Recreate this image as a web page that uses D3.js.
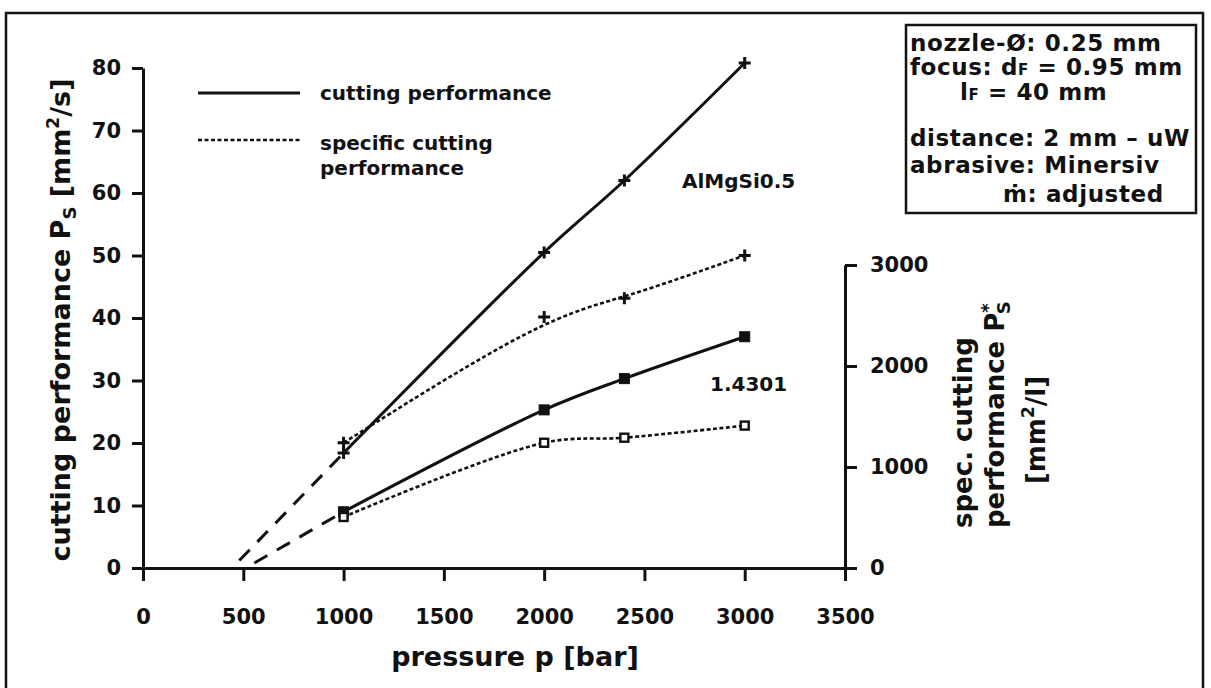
<!DOCTYPE html>
<html>
<head>
<meta charset="utf-8">
<script src="https://cdn.jsdelivr.net/npm/d3@7/dist/d3.min.js"></script>
<style>
  body { margin: 0; background: #fff; }
  svg text { font-family: "DejaVu Sans", sans-serif; font-weight: bold; fill: #111; }
</style>
</head>
<body>
<svg id="chart" width="1211" height="688"></svg>
<script>
// Measured points (pressure in bar)
const pressure = [1000, 2000, 2400, 3000];
// cutting performance P_S [mm²/s], left axis
const perfAlMgSi = [18.4, 50.5, 62.0, 80.8];
const perf14301 = [9.0, 25.3, 30.3, 37.0];
// specific cutting performance P_S* [mm²/l], right axis
const specAlMgSi = [1240, 2485, 2670, 3095];
const spec14301 = [505, 1240, 1290, 1410];
// dashed extrapolation towards the threshold pressure (bar, mm²/s)
const extrapAlMgSiP = [480, 1000];
const extrapAlMgSiV = [1.2, 18.4];
const extrap14301P = [555, 1000];
const extrap14301V = [0.8, 9.0];

const xTicks = [0, 500, 1000, 1500, 2000, 2500, 3000, 3500];
const leftTicks = [0, 10, 20, 30, 40, 50, 60, 70, 80];
const rightTicks = [0, 1000, 2000, 3000];

const infoLines = [
  "nozzle-\u00D8: 0.25 mm",
  "focus: d",
  "l",
  "distance: 2 mm \u2013 uW",
  "abrasive: Minersiv",
  "m\u0307: adjusted"
];

const svg = d3.select("#chart");
const ink = "#111";

// outer frame
svg.append("rect").attr("x", 6).attr("y", 13).attr("width", 1197).attr("height", 690)
  .attr("fill", "none").attr("stroke", ink).attr("stroke-width", 2.5);

const x = d3.scaleLinear().domain([0, 3500]).range([143, 845]);
const yL = d3.scaleLinear().domain([0, 80]).range([568, 68]);
const yR = d3.scaleLinear().domain([0, 3000]).range([568, 265]);
const fmt = d3.format("d");

function styleAxis(g) {
  g.select(".domain").attr("stroke", ink).attr("stroke-width", 3);
  g.selectAll(".tick line").attr("stroke", ink).attr("stroke-width", 3);
  g.selectAll(".tick text").attr("font-size", 21).attr("fill", ink)
    .attr("font-family", "DejaVu Sans").attr("font-weight", "bold");
}

svg.append("g").attr("transform", "translate(143,0)")
  .call(d3.axisLeft(yL).tickValues(leftTicks).tickFormat(fmt).tickSize(11).tickSizeOuter(0).tickPadding(11))
  .call(styleAxis);

svg.append("g").attr("transform", "translate(845,0)")
  .call(d3.axisRight(yR).tickValues(rightTicks).tickFormat(fmt).tickSize(12).tickSizeOuter(0).tickPadding(13))
  .call(styleAxis);

svg.append("g").attr("transform", "translate(0,568)")
  .call(d3.axisBottom(x).tickValues(xTicks).tickFormat(fmt).tickSize(13).tickSizeOuter(0).tickPadding(28))
  .call(styleAxis);

// axis titles
const tl = svg.append("text").attr("transform", "translate(70,320) rotate(-90)")
  .attr("text-anchor", "middle").attr("font-size", 27);
tl.append("tspan").text("cutting performance P");
tl.append("tspan").attr("font-size", 18).attr("dy", 6).text("S");
tl.append("tspan").attr("dy", -6).text(" [mm");
tl.append("tspan").attr("font-size", 17).attr("dy", -11).text("2");
tl.append("tspan").attr("dy", 11).text("/s]");

svg.append("text").attr("x", 515).attr("y", 666).attr("text-anchor", "middle")
  .attr("font-size", 27).text("pressure p [bar]");

svg.append("text").attr("transform", "translate(972,528) rotate(-90)")
  .attr("font-size", 26).text("spec. cutting");
const tr = svg.append("text").attr("transform", "translate(1004,528) rotate(-90)")
  .attr("font-size", 26);
tr.append("tspan").text("performance P");
tr.append("tspan").attr("font-size", 18).attr("dy", -10).text("*");
tr.append("tspan").attr("font-size", 18).attr("dx", -11).attr("dy", 16).text("S");
const tr2 = svg.append("text").attr("transform", "translate(1045,430) rotate(-90)")
  .attr("text-anchor", "middle").attr("font-size", 26);
tr2.append("tspan").text("[mm");
tr2.append("tspan").attr("font-size", 17).attr("dy", -11).text("2");
tr2.append("tspan").attr("dy", 11).text("/l]");

// curves
const rows = (ys) => pressure.map((p, i) => [p, ys[i]]);
const lineL = d3.line().x(d => x(d[0])).y(d => yL(d[1])).curve(d3.curveCatmullRom);
const lineR = d3.line().x(d => x(d[0])).y(d => yR(d[1])).curve(d3.curveCatmullRom);
const smoothR = d3.line().x(d => x(d[0])).y(d => yR(d[1])).curve(d3.curveBasis);
const straightL = d3.line().x(d => x(d[0])).y(d => yL(d[1]));

const solid = { "stroke-width": 3, "stroke-dasharray": null };
const dotted = { "stroke-width": 2.6, "stroke-dasharray": "4,2.5" };
const dashed = { "stroke-width": 3, "stroke-dasharray": "15,11" };

function path(d, style) {
  const p = svg.append("path").attr("d", d).attr("fill", "none").attr("stroke", ink)
    .attr("stroke-linejoin", "round");
  Object.entries(style).forEach(([k, v]) => { if (v !== null) p.attr(k, v); });
  return p;
}

path(lineL(rows(perfAlMgSi)), solid);
path(smoothR(rows(specAlMgSi)), dotted);
path(lineL(rows(perf14301)), solid);
path(lineR(rows(spec14301)), dotted);
path(straightL(extrapAlMgSiP.map((p, i) => [p, extrapAlMgSiV[i]])), dashed);
path(straightL(extrap14301P.map((p, i) => [p, extrap14301V[i]])), dashed);

// markers
function plus(px, py) {
  svg.append("path").attr("d", `M${px - 6},${py}H${px + 6}M${px},${py - 6}V${py + 6}`)
    .attr("stroke", ink).attr("stroke-width", 3).attr("fill", "none");
}
function square(px, py, filled) {
  const s = filled ? 10 : 8;
  svg.append("rect").attr("x", px - s / 2).attr("y", py - s / 2).attr("width", s).attr("height", s)
    .attr("fill", filled ? ink : "#fff").attr("stroke", ink).attr("stroke-width", filled ? 1 : 2.4);
}
pressure.forEach((p, i) => {
  plus(x(p), yL(perfAlMgSi[i]));
  plus(x(p), yR(specAlMgSi[i]));
  square(x(p), yL(perf14301[i]), true);
  square(x(p), yR(spec14301[i]), false);
});

// material labels
svg.append("text").attr("x", 682).attr("y", 188).attr("font-size", 20).text("AlMgSi0.5");
svg.append("text").attr("x", 710).attr("y", 391).attr("font-size", 20).text("1.4301");

// legend
path(`M198,93H300`, solid);
path(`M198,140H300`, dotted);
svg.append("text").attr("x", 320).attr("y", 100).attr("font-size", 20).text("cutting performance");
svg.append("text").attr("x", 320).attr("y", 150).attr("font-size", 20).text("specific cutting");
svg.append("text").attr("x", 320).attr("y", 175).attr("font-size", 20).text("performance");

// parameter box
svg.append("rect").attr("x", 906).attr("y", 25).attr("width", 290).attr("height", 188)
  .attr("fill", "#fff").attr("stroke", ink).attr("stroke-width", 2.5);
const box = svg.append("g").attr("font-size", 23).attr("letter-spacing", 0.6);
const bx = 910, bl = [51, 75, 100, 146, 173, 202];
box.append("text").attr("x", bx).attr("y", bl[0]).text(infoLines[0]);
const f = box.append("text").attr("x", bx).attr("y", bl[1]);
f.append("tspan").text(infoLines[1]);
f.append("tspan").attr("font-size", 15).text("F");
f.append("tspan").text(" = 0.95 mm");
const l = box.append("text").attr("x", 960).attr("y", bl[2]);
l.append("tspan").text(infoLines[2]);
l.append("tspan").attr("font-size", 15).text("F");
l.append("tspan").text(" = 40 mm");
box.append("text").attr("x", bx).attr("y", bl[3]).text(infoLines[3]);
box.append("text").attr("x", bx).attr("y", bl[4]).text(infoLines[4]);
box.append("text").attr("x", 1003).attr("y", bl[5]).text(infoLines[5]);
</script>
</body>
</html>
